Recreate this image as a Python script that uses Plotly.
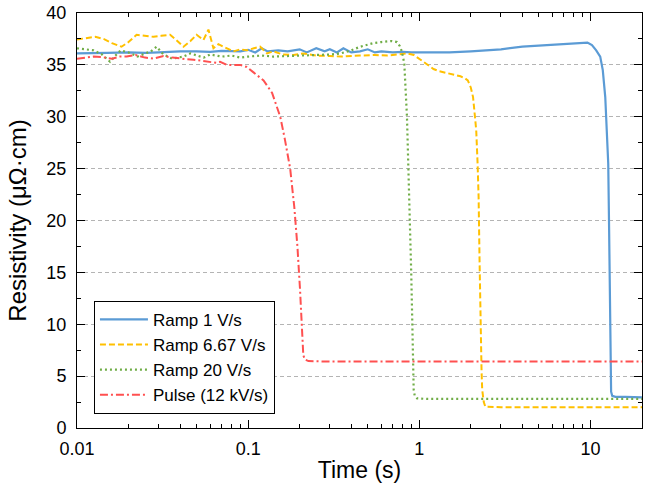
import plotly.graph_objects as go

# ---- data ----
ramp1_x = [0.01, 0.012, 0.015, 0.02, 0.025, 0.03, 0.04, 0.05, 0.06, 0.07, 0.08, 0.09, 0.1, 0.11, 0.12,
           0.13, 0.15, 0.17, 0.2, 0.22, 0.25, 0.28, 0.3, 0.33, 0.36, 0.4, 0.45, 0.5, 0.55, 0.6, 0.7, 0.8,
           0.9, 1.0, 1.2, 1.5, 2.0, 2.5, 3.0, 4.0, 5.0, 6.0, 7.0, 8.0, 9.0, 9.6, 10.2, 10.8, 11.4, 11.8,
           12.2, 12.5, 12.7, 12.85, 12.97, 13.1, 13.2, 13.4, 14.0, 16.0, 20.0]
ramp1_y = [36.1, 36.1, 36.15, 36.2, 36.15, 36.2, 36.3, 36.3, 36.25, 36.35, 36.3, 36.3, 36.45, 36.2, 36.6,
           36.3, 36.4, 36.3, 36.5, 36.2, 36.6, 36.3, 36.5, 36.2, 36.6, 36.2, 36.3, 36.5, 36.2, 36.3, 36.2, 36.25,
           36.2, 36.2, 36.25, 36.2, 36.3, 36.4, 36.5, 36.75, 36.85, 36.9, 37.0, 37.05, 37.1, 37.15, 36.9, 36.4, 35.8, 34.5,
           31.9, 28.5, 25.5, 19.1, 12.6, 6.3, 3.5, 3.1, 3.0, 3.0, 2.95]

ramp667_x = [0.01, 0.0115, 0.0128, 0.0143, 0.016, 0.0182, 0.02, 0.0223, 0.025, 0.028, 0.031, 0.035, 0.038,
             0.0419, 0.046, 0.05, 0.0548, 0.0586, 0.0627, 0.067, 0.0717, 0.077, 0.082, 0.09, 0.098, 0.108,
             0.1175, 0.129, 0.14, 0.16, 0.184, 0.21, 0.25, 0.3, 0.35, 0.45, 0.55, 0.65, 0.75, 0.85, 0.93, 1.0,
             1.06, 1.13, 1.21, 1.3, 1.45, 1.6, 1.74, 1.85, 1.92, 2.0, 2.06, 2.1, 2.15, 2.19, 2.22, 2.25, 2.28,
             2.31, 2.33, 2.38, 2.43, 3.0, 5.0, 10.0, 20.0]
ramp667_y = [37.45, 37.6, 37.7, 37.5, 37.1, 36.75, 37.2, 37.9, 37.8, 37.7, 37.8, 37.9, 37.4,
             36.75, 37.3, 37.9, 37.4, 38.4, 36.6, 37.0, 36.75, 36.5, 36.3, 36.5, 36.4, 36.6,
             36.75, 36.1, 36.3, 36.0, 35.95, 36.1, 35.9, 35.85, 35.8, 35.9, 35.95, 35.9, 36.0, 36.1, 35.95, 35.6,
             35.3, 35.0, 34.6, 34.4, 34.2, 34.0, 33.9, 33.7, 33.5, 32.8, 31.9, 30.5, 28.7, 25.5, 22.3, 15.9, 9.4,
             5.5, 3.7, 2.5, 2.05, 2.0, 2.0, 2.0, 2.0]

ramp20_x = [0.01, 0.011, 0.0125, 0.014, 0.0156, 0.017, 0.018, 0.02, 0.0226, 0.025, 0.027, 0.0292, 0.032,
            0.036, 0.0419, 0.046, 0.05, 0.055, 0.06, 0.07, 0.08, 0.09, 0.1, 0.12, 0.14, 0.17, 0.2, 0.25, 0.3,
            0.345, 0.4, 0.452, 0.5, 0.538, 0.6, 0.69, 0.74, 0.77, 0.79, 0.817, 0.847, 0.866, 0.885, 0.897,
            0.91, 0.918, 0.927, 0.94, 0.97, 1.1, 2.0, 5.0, 10.0, 20.0]
ramp20_y = [36.6, 36.5, 36.4, 36.0, 35.3, 36.0, 36.4, 36.2, 35.8, 36.1, 36.3, 36.75, 36.0,
            35.6, 35.8, 36.1, 35.9, 35.7, 36.0, 35.8, 35.9, 35.7, 35.8, 35.9, 35.8, 35.85, 35.9, 35.9, 36.0,
            36.1, 36.4, 36.75, 36.95, 37.1, 37.2, 37.3, 37.2, 36.8, 36.3, 35.15, 30.0, 24.9, 19.7, 14.9,
            10.1, 6.3, 3.7, 3.1, 2.86, 2.8, 2.8, 2.8, 2.8, 2.8]

pulse_x = [0.01, 0.0115, 0.0125, 0.014, 0.016, 0.0178, 0.0195, 0.022, 0.025, 0.028, 0.032, 0.036, 0.04,
           0.044, 0.048, 0.053, 0.058, 0.065, 0.0686, 0.075, 0.0897, 0.098, 0.107, 0.123, 0.138, 0.154,
           0.164, 0.176, 0.186, 0.194, 0.201, 0.206, 0.210, 0.215, 0.225, 0.3, 1.0, 10.0, 20.0]
pulse_y = [35.6, 35.7, 35.8, 35.75, 35.6, 35.8, 35.8, 35.95, 35.7, 35.6, 35.85, 35.7, 35.6,
           35.55, 35.5, 35.4, 35.3, 35.2, 35.3, 35.0, 35.0, 34.8, 34.3, 33.5, 32.3, 30.0,
           27.8, 25.0, 21.3, 17.5, 13.3, 9.15, 7.0, 6.6, 6.45, 6.4, 6.4, 6.4, 6.4]

series_names = ["Ramp 1 V/s", "Ramp 6.67 V/s", "Ramp 20 V/s", "Pulse (12 kV/s)"]

x_tickvals = [0.01, 0.1, 1, 10]
x_ticktext = ["0.01", "0.1", "1", "10"]
x_minor = [m * d for d in (0.01, 0.1, 1, 10) for m in range(2, 10) if m * d <= 20]

FONT = "Liberation Sans, Arial, sans-serif"

fig = go.Figure()
fig.add_trace(go.Scatter(x=ramp1_x, y=ramp1_y, mode="lines", name=series_names[0],
                         line=dict(color="#5B9BD5", width=2.2)))
fig.add_trace(go.Scatter(x=ramp667_x, y=ramp667_y, mode="lines", name=series_names[1],
                         line=dict(color="#FFC000", width=2, dash="6px,3px")))
fig.add_trace(go.Scatter(x=ramp20_x, y=ramp20_y, mode="lines", name=series_names[2],
                         line=dict(color="#70AD47", width=2.2, dash="2px,3px")))
fig.add_trace(go.Scatter(x=pulse_x, y=pulse_y, mode="lines", name=series_names[3],
                         line=dict(color="#FF5050", width=2, dash="8px,3px,2px,3px")))

fig.update_layout(
    width=654, height=487,
    margin=dict(l=77, r=12, t=13, b=59),
    paper_bgcolor="white", plot_bgcolor="white",
    font=dict(family=FONT, size=18, color="black"),
    legend=dict(x=0.03, y=0.034, xanchor="left", yanchor="bottom",
                bgcolor="white", bordercolor="black", borderwidth=1,
                font=dict(size=17), tracegroupgap=0, itemwidth=48,
                entrywidth=140, entrywidthmode="pixels"),
)
fig.update_xaxes(
    type="log", range=[-2, 1.30103], automargin=False,
    tickvals=x_tickvals, ticktext=x_ticktext,
    ticks="inside", ticklen=8, tickcolor="black", tickwidth=1,
    showline=True, linecolor="black", linewidth=1, mirror="ticks",
    showgrid=False, zeroline=False,
    minor=dict(tickvals=x_minor, ticks="inside", ticklen=4, tickcolor="black", showgrid=False),
    title=dict(text="Time (s)", font=dict(size=23), standoff=4),
    ticklabelstandoff=4,
)
fig.update_yaxes(
    range=[0, 40], dtick=5, automargin=False,
    ticks="inside", ticklen=8, tickcolor="black", tickwidth=1,
    showline=True, linecolor="black", linewidth=1, mirror="ticks",
    showgrid=True, gridcolor="#b4b4b4", griddash="4px,3px", gridwidth=1, zeroline=False,
    minor=dict(dtick=2.5, ticks="inside", ticklen=4, tickcolor="black", showgrid=False),
    title=dict(text="Resistivity (μΩ·cm)", font=dict(size=24), standoff=12),
    ticklabelstandoff=6,
)

fig.write_html("out.html", config={"displayModeBar": False},
               post_script="document.body.style.margin='0';")
